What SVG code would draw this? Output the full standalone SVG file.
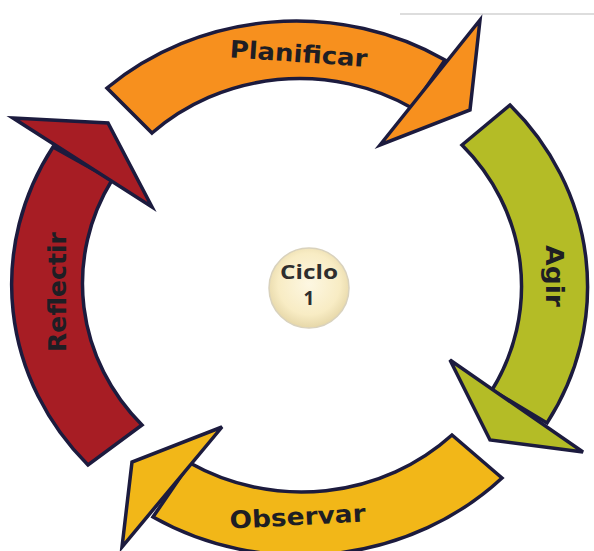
<svg xmlns="http://www.w3.org/2000/svg" width="594" height="551" viewBox="0 0 594 551">
  <defs>
    <radialGradient id="cream" cx="50%" cy="45%" r="55%">
      <stop offset="0" stop-color="#FDF7E2"/>
      <stop offset="0.7" stop-color="#F8ECC4"/>
      <stop offset="1" stop-color="#E6D7A8"/>
    </radialGradient>
  </defs>
  <style>
    .arrow { stroke: #1c1b3e; stroke-width: 3.5; stroke-linejoin: miter; }
    .orange { fill: #F7901E; }
    .green { fill: #B4BC26; }
    .yellow { fill: #F2B718; }
    .red { fill: #A71D24; }
    .lbl { font-family: "DejaVu Sans", "Liberation Sans", sans-serif; font-weight: bold; font-size: 24px; fill: #1e1e24; text-anchor: middle; }
    .ctr { font-family: "Open Sans", "Liberation Sans", sans-serif; font-weight: bold; font-size: 19px; fill: #2e2e2e; text-anchor: middle; }
  </style>
  <rect width="594" height="551" fill="#ffffff"/>
  <line x1="400" y1="14" x2="594" y2="14" stroke="#d2d2d2" stroke-width="1.5"/>

  <g id="connectors"></g>

  <g id="planificar">
    <path class="arrow orange" d="M107,88 A285,265 0 0 1 445,60 L412,108 A218,206 0 0 0 152,133 Z"/>
    <path class="arrow orange" d="M380,145 L480,20 L470,110 Z"/>
    <text class="lbl" transform="translate(298,62) rotate(4)" textLength="138" lengthAdjust="spacingAndGlyphs">Planificar</text>
  </g>

  <g id="agir">
    <path class="arrow green" d="M510,105 A285,265 0 0 1 547,423 L492,390 A218,206 0 0 0 462,145 Z"/>
    <path class="arrow green" d="M450,360 L583,452 L490,440 Z"/>
    <text class="lbl" transform="translate(546,276) rotate(90)" textLength="62" lengthAdjust="spacingAndGlyphs">Agir</text>
  </g>

  <g id="observar">
    <path class="arrow yellow" d="M502,478 A285,265 0 0 1 153,517 L190,463 A218,206 0 0 0 452,435 Z"/>
    <path class="arrow yellow" d="M222,427 L132,462 L122,547 Z"/>
    <text class="lbl" transform="translate(298,525) rotate(-3)" textLength="136" lengthAdjust="spacingAndGlyphs">Observar</text>
  </g>

  <g id="reflectir">
    <path class="arrow red" d="M88,465 A285,265 0 0 1 53,147 L112,180 A218,206 0 0 0 142,425 Z"/>
    <path class="arrow red" d="M13,118 L108,123 L152,207 Z"/>
    <text class="lbl" transform="translate(66,292) rotate(-90)" textLength="120" lengthAdjust="spacingAndGlyphs">Reflectir</text>
  </g>

  <g id="ciclo">
    <circle cx="309" cy="288" r="40" fill="url(#cream)" stroke="#d9d2bd" stroke-width="1.5"/>
    <text class="ctr" x="309" y="279" textLength="58" lengthAdjust="spacingAndGlyphs">Ciclo</text>
    <text class="ctr" x="309" y="305">1</text>
  </g>
</svg>
